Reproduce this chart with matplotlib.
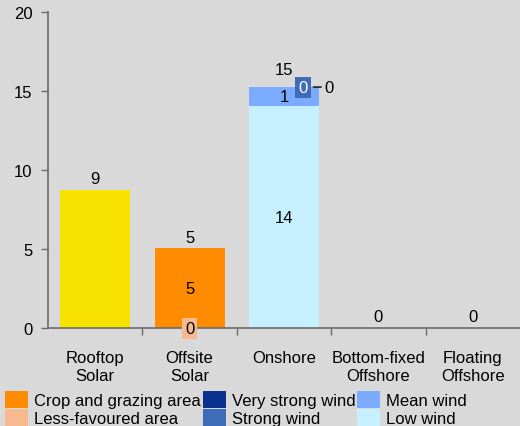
"""Stacked bar chart of land / wind resource potential by technology."""

import matplotlib
matplotlib.use("Agg")
import matplotlib.pyplot as plt
import numpy as np

plt.rcParams["font.family"] = ["Liberation Sans", "DejaVu Sans"]

categories = ["Rooftop\nSolar", "Offsite\nSolar", "Onshore",
              "Bottom-fixed\nOffshore", "Floating\nOffshore"]

rooftop = [8.75, 0, 0, 0, 0]
less_favoured = [0, 0.0, 0, 0, 0]
crop_grazing = [0, 5.05, 0, 0, 0]
low_wind = [0, 0, 14.05, 0, 0]
mean_wind = [0, 0, 1.2, 0, 0]
strong_wind = [0, 0, 0.0, 0, 0]
very_strong_wind = [0, 0, 0.0, 0, 0]

BG = "#d9d9d9"
AXIS = "#6b6b6b"
FS = 12

fig = plt.figure(figsize=(5.2, 4.27), dpi=100, facecolor=BG)
ax = fig.add_axes([0.0923, 0.2295, 0.9077, 0.7401], facecolor=BG)

x = np.arange(len(categories))
width = 0.74
bottom = np.zeros(len(categories))

# stacking order from the bottom up; rooftop has no inner label
series = [
    (rooftop, "#f7e200", "_nolegend_", False),
    (less_favoured, "#f7b98f", "Less-favoured area", True),
    (crop_grazing, "#ff8c00", "Crop and grazing area", True),
    (low_wind, "#c6efff", "Low wind", True),
    (mean_wind, "#7aabff", "Mean wind", True),
    (strong_wind, "#3f6cb8", "Strong wind", True),
    (very_strong_wind, "#0b318f", "Very strong wind", True),
]
handles = {}
for vals, col, lab, inner in series:
    vals = np.array(vals, dtype=float)
    bars = ax.bar(x, vals, width, bottom=bottom, color=col, label=lab)
    handles[lab] = bars
    if inner:
        for xi, v, b in zip(x, vals, bottom):
            if v >= 1:
                ax.text(xi, b + v / 2, f"{v:.0f}", ha="center", va="center",
                        fontsize=FS, color="black")
    bottom = bottom + vals

totals = bottom

# small segment labels with coloured boxes
i = 1
ax.text(x[i], 0.0, f"{less_favoured[i]:.0f}", ha="center", va="center",
        fontsize=FS, color="black",
        bbox=dict(boxstyle="square,pad=0.18", fc="#f7b98f", ec="none"))
i = 2
top = totals[i]
ax.text(x[i] + 0.2, top, f"{strong_wind[i]:.0f}", ha="center", va="center",
        fontsize=FS, color="white",
        bbox=dict(boxstyle="square,pad=0.18", fc="#3f6cb8", ec="none"))
ax.annotate(f"{very_strong_wind[i]:.0f}", xy=(x[i] + 0.31, top),
            xytext=(x[i] + 0.48, top), ha="center", va="center",
            fontsize=FS, color="black",
            arrowprops=dict(arrowstyle="-", color="black", lw=1,
                            shrinkA=0.5, shrinkB=0))

# total labels
for xi, t in zip(x, totals):
    off = 1.1 if xi == 2 else 0.7
    ax.text(xi, t + off, f"{t:.0f}", ha="center", va="center",
            fontsize=FS, color="black")

ax.set_xlim(-0.5, 4.5)
ax.set_ylim(0, 20)
ax.set_yticks([0, 5, 10, 15, 20])
ax.set_xticks(x)
ax.set_xticklabels(categories, fontsize=FS, linespacing=1.2)
ax.set_xticks([0.5, 1.5, 2.5, 3.5], minor=True)
ax.tick_params(axis="x", which="major", length=0, pad=16)
ax.tick_params(axis="x", which="minor", length=5, color=AXIS, width=1)
ax.tick_params(axis="y", length=5, color=AXIS, width=1, labelsize=FS, pad=6)
for s in ("top", "right"):
    ax.spines[s].set_visible(False)
for s in ("left", "bottom"):
    ax.spines[s].set_color(AXIS)
    ax.spines[s].set_linewidth(1.2)

order = ["Crop and grazing area", "Less-favoured area",
         "Very strong wind", "Strong wind",
         "Mean wind", "Low wind"]
fig.legend([handles[k] for k in order], order, ncol=3, loc="lower left",
           bbox_to_anchor=(0.0, -0.012), frameon=False, fontsize=FS,
           handlelength=1.4, handleheight=1.15, handletextpad=0.35,
           columnspacing=0.1, labelspacing=0.05, borderpad=0.3,
           borderaxespad=0.0)

fig.savefig("out.png", dpi=100, facecolor=BG)
